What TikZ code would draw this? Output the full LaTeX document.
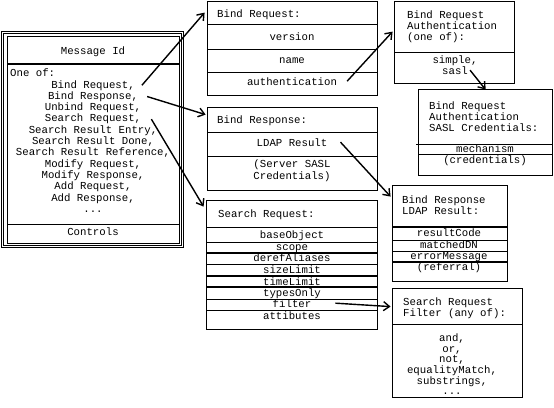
\documentclass[tikz,border=0pt]{standalone}
\usepackage{fontspec}
\setmonofont{Liberation Mono}
\usetikzlibrary{arrows.meta}

\tikzset{
	box/.style={draw, line width=0.8pt, inner sep=0pt},
	txt/.style={anchor=base, inner sep=2pt},
	hd/.style={anchor=base west, inner sep=2pt},
	sep/.style={line width=0.8pt},
	heavy/.style={line width=1.8pt},
	link/.style={line width=1.4pt, -{Straight Barb[length=6pt, width=9pt, line width=1.4pt]}}
}

\begin{document}
\begin{tikzpicture}[x=1pt, y=-1pt, font=\ttfamily\fontsize{10.7}{11.3}\selectfont]
	\useasboundingbox (0,0) rectangle (554,407);

	% message frame
	\node[box, minimum width=172pt, minimum height=207pt] (msg) at (93,139.5) {};
	\draw[sep] ([shift={(-3,-2)}]msg.north west) rectangle ([shift={(2,2)}]msg.south east);
	\draw[sep] ([shift={(-5,-4)}]msg.north west) rectangle ([shift={(4,4)}]msg.south east);
	\draw[heavy] (7,64) -- (179,64);
	\draw[sep] (7,224) -- (179,224);
	\node[txt] (msgid) at (93,54) {Message Id};
	\node[hd] (oneof) at (8,76) {One of:};
	\node[txt] (m1) at (93,88) {Bind Request,};
	\node[txt] (m2) at (93,99.3) {Bind Response,};
	\node[txt] (m3) at (93,110.6) {Unbind Request,};
	\node[txt] (m4) at (93,121.9) {Search Request,};
	\node[txt] (m5) at (93,133.2) {Search Result Entry,};
	\node[txt] (m6) at (93,144.5) {Search Result Done,};
	\node[txt] (m7) at (93,155.8) {Search Result Reference,};
	\node[txt] (m8) at (93,167.1) {Modify Request,};
	\node[txt] (m9) at (93,178.4) {Modify Response,};
	\node[txt] (m10) at (93,189.7) {Add Request,};
	\node[txt] (m11) at (93,201) {Add Response,};
	\node[txt] (m12) at (93,212.3) {...};
	\node[txt] (ctrl) at (93,235) {Controls};

	% bind request
	\node[box, minimum width=170pt, minimum height=94pt] (breq) at (292,48) {};
	\foreach \y in {24,49,72} \draw[sep] (207,\y) -- (377,\y);
	\node[hd] (breqhd) at (215,17) {Bind Request:};
	\node[txt] (version) at (292,40) {version};
	\node[txt] (name) at (292,63) {name};
	\node[txt] (authn) at (292,85) {authentication};

	% authentication choice
	\node[box, minimum width=120pt, minimum height=82pt] (auth) at (454,42) {};
	\draw[sep] (394,52) -- (514,52);
	\node[hd] (auth1) at (405,18) {Bind Request};
	\node[hd] (auth2) at (405,29) {Authentication};
	\node[hd] (auth3) at (405,40) {(one of):};
	\node[txt] (simple) at (455,63) {simple,};
	\node[txt] (sasl) at (455,74) {sasl};

	% sasl credentials
	\node[box, minimum width=134pt, minimum height=86pt] (saslcr) at (485,132) {};
	\draw[sep] (416,144) -- (552,144);
	\draw[sep] (418,154) -- (552,154);
	\node[hd] (sasl1) at (427,109) {Bind Request};
	\node[hd] (sasl2) at (427,120) {Authentication};
	\node[hd] (sasl3) at (427,131) {SASL Credentials:};
	\node[txt] (mech) at (485,152) {mechanism};
	\node[txt] (cred) at (485,163) {(credentials)};

	% bind response
	\node[box, minimum width=170pt, minimum height=83pt] (bresp) at (292,148.5) {};
	\foreach \y in {132,156} \draw[sep] (207,\y) -- (377,\y);
	\node[hd] (bresphd) at (215,123) {Bind Response:};
	\node[txt] (ldapres) at (292,146) {LDAP Result};
	\node[txt] (srv1) at (292,167) {(Server SASL};
	\node[txt] (srv2) at (292,179) {Credentials)};

	% ldap result
	\node[box, minimum width=115pt, minimum height=96pt] (ldap) at (449.5,233) {};
	\foreach \y in {227,262} \draw[heavy] (392,\y) -- (507,\y);
	\foreach \y in {240,251} \draw[sep] (392,\y) -- (507,\y);
	\node[hd] (ldap1) at (400,203) {Bind Response};
	\node[hd] (ldap2) at (400,214) {LDAP Result:};
	\node[txt] (rcode) at (449,236) {resultCode};
	\node[txt] (mdn) at (449,248) {matchedDN};
	\node[txt] (emsg) at (449,259) {errorMessage};
	\node[txt] (refl) at (449,270) {(referral)};

	% search request
	\node[box, minimum width=171pt, minimum height=129pt] (sreq) at (291.5,264.5) {};
	\foreach \y in {227,242,264,299,310} \draw[sep] (206,\y) -- (377,\y);
	\foreach \y in {253,276,287} \draw[heavy] (206,\y) -- (377,\y);
	\node[hd] (sreqhd) at (216,217) {Search Request:};
	\node[txt] (base) at (292,238) {baseObject};
	\node[txt] (scope) at (292,250) {scope};
	\node[txt] (deref) at (292,261) {derefAliases};
	\node[txt] (size) at (292,273) {sizeLimit};
	\node[txt] (time) at (292,285) {timeLimit};
	\node[txt] (types) at (292,296) {typesOnly};
	\node[txt] (filt) at (292,307) {filter};
	\node[txt] (attr) at (292,319) {attibutes};

	% filter choice
	\node[box, minimum width=130pt, minimum height=109pt] (fbox) at (457,342.5) {};
	\draw[sep] (392,324) -- (522,324);
	\node[hd] (fbox1) at (401,305) {Search Request};
	\node[hd] (fbox2) at (401,316) {Filter (any of):};
	\node[txt] (fand) at (452,341) {and,};
	\node[txt] (for) at (452,352) {or,};
	\node[txt] (fnot) at (452,362.5) {not,};
	\node[txt] (feq) at (452,373.5) {equalityMatch,};
	\node[txt] (fsub) at (452,384) {substrings,};
	\node[txt] (fmore) at (452,394) {...};

	\path ([xshift=5pt]m1.east) edge[link] ([shift={(-2,12)}]breq.north west)
	([xshift=7pt]m2.east) edge[link] ([shift={(-1,8)}]bresp.north west)
	([xshift=8pt]m4.east) edge[link] ([shift={(-2,7)}]sreq.north west)
	([xshift=8pt]authn.east) edge[link] ([shift={(-1,31)}]auth.north west)
	([xshift=11pt]ldapres.east) edge[link] ([shift={(-1,12)}]ldap.north west)
	(sasl.east) edge[link] ([shift={(68,1)}]saslcr.north west)
	([xshift=22pt]filt.east) edge[link] ([shift={(-1,19)}]fbox.north west);
\end{tikzpicture}
\end{document}
